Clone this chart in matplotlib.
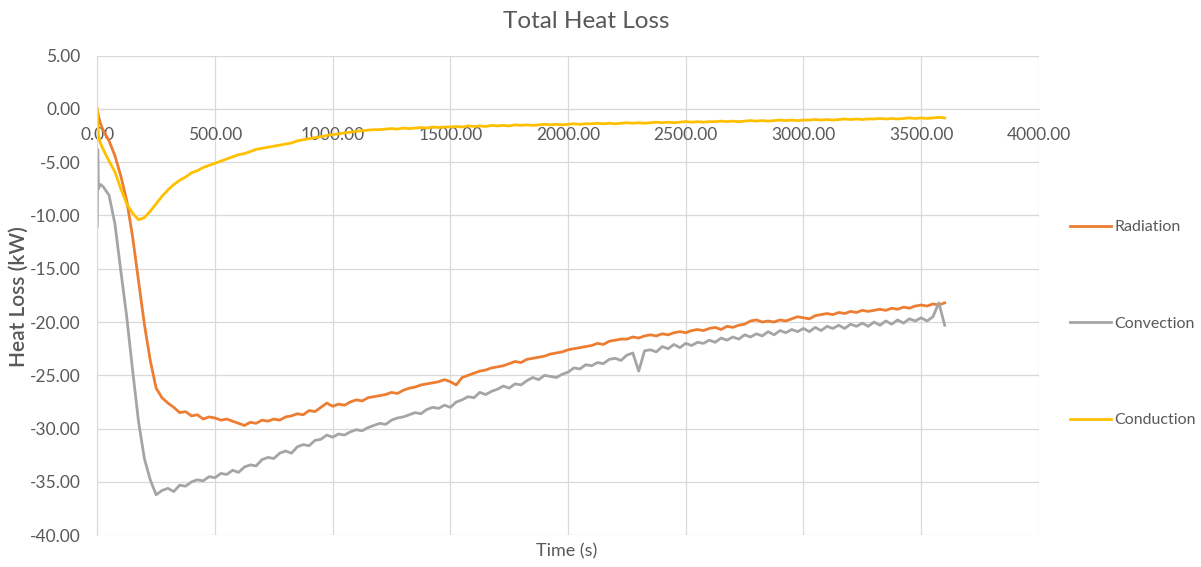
import matplotlib
matplotlib.use("Agg")
import matplotlib.pyplot as plt

# time axis (s): a few early samples, then every 25 s
time_s = [0, 2, 5, 10, 15] + list(range(25, 3601, 25))

radiation = [
    0.0, -0.3, -0.7, -1.1, -1.5,
    -2.0, -3.0, -4.4, -6.3, -8.6, -12.0, -16.1, -20.2,
    -23.6, -26.2, -27.1, -27.6, -28.0, -28.5, -28.4, -28.8,
    -28.7, -29.1, -28.9, -29.0, -29.2, -29.1, -29.3, -29.5,
    -29.7, -29.4, -29.5, -29.2, -29.3, -29.1, -29.2, -28.9,
    -28.8, -28.6, -28.7, -28.3, -28.4, -28.0, -27.6, -27.9,
    -27.7, -27.8, -27.5, -27.3, -27.4, -27.1, -27.0, -26.9,
    -26.8, -26.6, -26.7, -26.4, -26.2, -26.1, -25.9, -25.8,
    -25.7, -25.6, -25.4, -25.6, -25.9, -25.2, -25.0, -24.8,
    -24.6, -24.5, -24.3, -24.2, -24.1, -23.9, -23.7, -23.8,
    -23.5, -23.4, -23.3, -23.2, -23.0, -22.9, -22.8, -22.6,
    -22.5, -22.4, -22.3, -22.2, -22.0, -22.1, -21.8, -21.7,
    -21.6, -21.6, -21.4, -21.5, -21.3, -21.2, -21.3, -21.1,
    -21.2, -21.0, -20.9, -21.0, -20.8, -20.7, -20.8, -20.6,
    -20.5, -20.7, -20.4, -20.5, -20.3, -20.2, -19.9, -19.8,
    -20.0, -19.9, -20.0, -19.8, -19.9, -19.7, -19.5, -19.6,
    -19.7, -19.4, -19.3, -19.2, -19.3, -19.1, -19.2, -19.0,
    -19.1, -18.9, -19.0, -18.9, -18.8, -18.9, -18.7, -18.8,
    -18.6, -18.7, -18.5, -18.4, -18.5, -18.3, -18.4, -18.2,
]

convection = [
    -11.0, -3.8, -7.5, -7.2, -7.1,
    -7.3, -8.1, -10.8, -15.2, -19.5, -24.5, -29.3, -32.8,
    -34.8, -36.2, -35.8, -35.6, -35.9, -35.3, -35.4, -35.0,
    -34.8, -34.9, -34.5, -34.6, -34.2, -34.3, -33.9, -34.1,
    -33.6, -33.4, -33.5, -32.9, -32.7, -32.8, -32.3, -32.1,
    -32.3, -31.7, -31.5, -31.6, -31.1, -31.0, -30.6, -30.8,
    -30.5, -30.6, -30.3, -30.1, -30.2, -29.9, -29.7, -29.5,
    -29.6, -29.2, -29.0, -28.9, -28.7, -28.5, -28.6, -28.2,
    -28.0, -28.1, -27.8, -28.0, -27.5, -27.3, -27.0, -27.1,
    -26.6, -26.8, -26.5, -26.3, -26.0, -26.2, -25.8, -25.9,
    -25.5, -25.2, -25.4, -25.0, -25.1, -25.2, -24.9, -24.7,
    -24.3, -24.4, -24.0, -24.1, -23.8, -23.9, -23.5, -23.4,
    -23.6, -23.1, -22.9, -24.6, -22.7, -22.6, -22.8, -22.3,
    -22.5, -22.1, -22.4, -22.0, -22.2, -21.9, -22.0, -21.7,
    -21.9, -21.5, -21.7, -21.4, -21.6, -21.2, -21.4, -21.1,
    -21.3, -20.9, -21.2, -20.8, -21.0, -20.7, -20.9, -20.6,
    -20.9, -20.5, -20.8, -20.4, -20.6, -20.3, -20.6, -20.2,
    -20.4, -20.1, -20.4, -20.0, -20.3, -19.9, -20.2, -19.8,
    -20.1, -19.7, -19.9, -19.6, -19.9, -19.5, -18.2, -20.3,
]

conduction = [
    0.0, -1.5, -2.5, -3.0, -3.3,
    -3.8, -4.9, -5.9, -7.5, -8.9, -9.8, -10.4, -10.2,
    -9.6, -8.9, -8.2, -7.6, -7.1, -6.7, -6.4, -6.0,
    -5.8, -5.5, -5.3, -5.1, -4.9, -4.7, -4.5, -4.3,
    -4.2, -4.0, -3.8, -3.7, -3.6, -3.5, -3.4, -3.3,
    -3.2, -3.0, -2.9, -2.8, -2.7, -2.6, -2.5, -2.4,
    -2.35, -2.25, -2.2, -2.1, -2.05, -2.0, -1.95, -1.95,
    -1.9, -1.85, -1.9, -1.8, -1.85, -1.8, -1.75, -1.8,
    -1.7, -1.75, -1.7, -1.7, -1.65, -1.7, -1.6, -1.65,
    -1.6, -1.65, -1.55, -1.6, -1.55, -1.6, -1.5, -1.55,
    -1.5, -1.55, -1.5, -1.45, -1.5, -1.45, -1.5, -1.45,
    -1.4, -1.45, -1.4, -1.4, -1.35, -1.4, -1.35, -1.4,
    -1.35, -1.3, -1.35, -1.3, -1.35, -1.3, -1.25, -1.3,
    -1.25, -1.3, -1.25, -1.2, -1.25, -1.2, -1.25, -1.2,
    -1.2, -1.15, -1.2, -1.15, -1.2, -1.15, -1.1, -1.15,
    -1.1, -1.15, -1.1, -1.05, -1.1, -1.05, -1.1, -1.05,
    -1.05, -1.0, -1.05, -1.0, -1.05, -1.0, -0.95, -1.0,
    -0.95, -1.0, -0.95, -0.95, -0.9, -0.95, -0.9, -0.95,
    -0.9, -0.85, -0.9, -0.85, -0.9, -0.85, -0.8, -0.85,
]

x_ticks = [0, 500, 1000, 1500, 2000, 2500, 3000, 3500, 4000]
y_ticks = [5, 0, -5, -10, -15, -20, -25, -30, -35, -40]

text_col = "#595959"
grid_col = "#D9D9D9"
plt.rcParams["font.family"] = ["Lato", "DejaVu Sans"]

fig = plt.figure(figsize=(12.01, 5.67), dpi=100)
ax = fig.add_axes([0.081, 0.056, 0.784, 0.846])

ax.plot(time_s, radiation, color="#ED7D31", lw=2.0, label="Radiation")
ax.plot(time_s, convection, color="#A5A5A5", lw=2.0, label="Convection")
ax.plot(time_s, conduction, color="#FFC000", lw=2.0, label="Conduction")

ax.set_xlim(0, 4000)
ax.set_ylim(-40, 5)
ax.set_xticks(x_ticks)
ax.set_yticks(y_ticks)
ax.set_xticklabels(["%.2f" % v for v in x_ticks])
ax.set_yticklabels(["%.2f" % v for v in y_ticks])
ax.grid(True, color=grid_col, lw=0.9)
ax.set_axisbelow(True)

# x axis crosses at zero like the spreadsheet chart
ax.spines["bottom"].set_position(("data", 0))
for side in ["top", "right", "bottom", "left"]:
    ax.spines[side].set_color(grid_col)
ax.spines["top"].set_visible(False)
ax.spines["right"].set_visible(False)
ax.tick_params(axis="both", length=0, labelsize=12.5, labelcolor=text_col)
ax.tick_params(axis="x", pad=13)
ax.tick_params(axis="y", pad=12)

fig.text(0.488, 0.962, "Total Heat Loss", ha="center", va="center",
         fontsize=17.5, color=text_col)
fig.text(0.472, 0.027, "Time (s)", ha="center", va="center",
         fontsize=13, color=text_col)
fig.text(0.016, 0.477, "Heat Loss (kW)", ha="center", va="center",
         rotation=90, fontsize=15, color=text_col, fontweight="semibold")

fig.legend(loc="center left", bbox_to_anchor=(0.884, 0.429), frameon=False,
           fontsize=11.5, labelcolor=text_col, labelspacing=5.15,
           handlelength=2.6, handletextpad=0.2, borderpad=0)

fig.savefig("out.png", dpi=100)
